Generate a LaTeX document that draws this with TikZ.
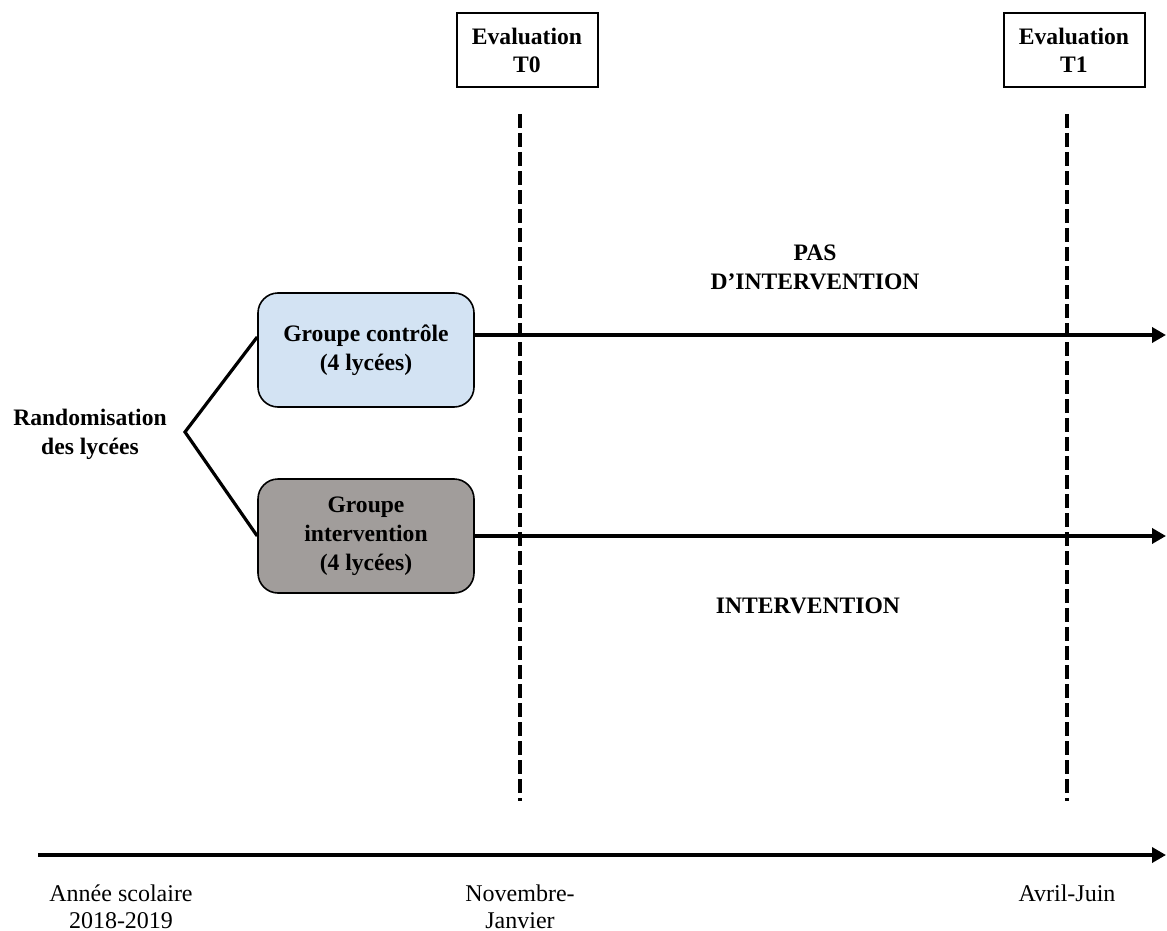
\documentclass[tikz,border=0pt]{standalone}
\usepackage{fontspec}
\setmainfont{Liberation Serif}
\usetikzlibrary{arrows.meta}
\definecolor{CtrlBlue}{HTML}{D3E3F3}
\definecolor{IntGray}{HTML}{A19D9B}

\begin{document}
\begin{tikzpicture}[
	x=0.5pt, y=-0.5pt, % one unit = one pixel of the layout
	% Style for the evaluation boxes at the top
	eval box/.style={
		draw=black,
		line width=1pt,
		minimum width=70.5pt,
		minimum height=37pt,
		align=center,
		font=\fontsize{11.8}{14}\selectfont\bfseries
	},
	% Style for the two groups
	group box/.style={
		draw=black,
		line width=0.8pt,
		rounded corners=10pt,
		minimum width=108pt,
		minimum height=57pt,
		align=center,
		font=\fontsize{11.8}{14.5}\selectfont\bfseries
	},
	% Style for bold free labels
	label text/.style={
		align=center,
		font=\fontsize{11.8}{14.5}\selectfont\bfseries
	},
	% Style for the dates under the timeline
	date text/.style={
		align=center,
		anchor=north,
		font=\fontsize{12}{13.5}\selectfont
	},
	% Style for the thick arrows
	time arrow/.style={
		line width=2pt,
		-{Triangle[length=7pt,width=7.5pt]}
	},
	% Style for the dashed markers
	marker/.style={
		line width=2.2pt,
		dash pattern=on 7pt off 2.5pt
	},
	% Style for the randomisation branches
	branch/.style={
		line width=1.6pt
	}
	]
	\useasboundingbox (0,0) rectangle (1167,931);
	
	% 1. Evaluation boxes and their dashed markers
	\node[eval box] (T0) at (527, 50) {Evaluation\\T0};
	\node[eval box] (T1) at (1074, 50) {Evaluation\\T1};
	
	\coordinate (T0top) at (520, 114);
	\coordinate (T0bot) at (520, 801);
	\coordinate (T1top) at (1067, 114);
	\coordinate (T1bot) at (1067, 801);
	
	% 2. Randomisation and groups
	\node[label text] (rand) at (90, 434) {Randomisation\\des lycées};
	\coordinate (split) at (185, 432);
	
	\node[group box, fill=CtrlBlue] (ctrl) at (366, 350) {Groupe contrôle\\(4 lycées)};
	\node[group box, fill=IntGray] (int) at (366, 536) {Groupe\\intervention\\(4 lycées)};
	
	\coordinate (ctrlend) at (1166, 335);
	\coordinate (intend) at (1166, 536);
	
	% 3. Labels along the arrows
	\node[label text] (none) at (815, 267) {PAS\\D'INTERVENTION};
	\node[label text] (interv) at (808, 606) {INTERVENTION};
	
	% 4. Timeline
	\coordinate (timestart) at (38, 855);
	\coordinate (timeend) at (1166, 855);
	\node[date text] (year) at (121, 878) {Année scolaire\\2018-2019};
	\node[date text] (nov) at (520, 878) {Novembre-\\Janvier};
	\node[date text] (apr) at (1067, 878) {Avril-Juin};
	
	% Draw markers, branches and arrows
	\draw[marker] (T0top) -- (T0bot);
	\draw[marker] (T1top) -- (T1bot);
	
	\draw[branch] ([yshift=6.5pt]ctrl.west) -- (split) -- (int.west);
	
	\draw[time arrow] ([yshift=7.5pt]ctrl.east) -- (ctrlend);
	\draw[time arrow] (int.east) -- (intend);
	\draw[time arrow] (timestart) -- (timeend);
	
\end{tikzpicture}
\end{document}
